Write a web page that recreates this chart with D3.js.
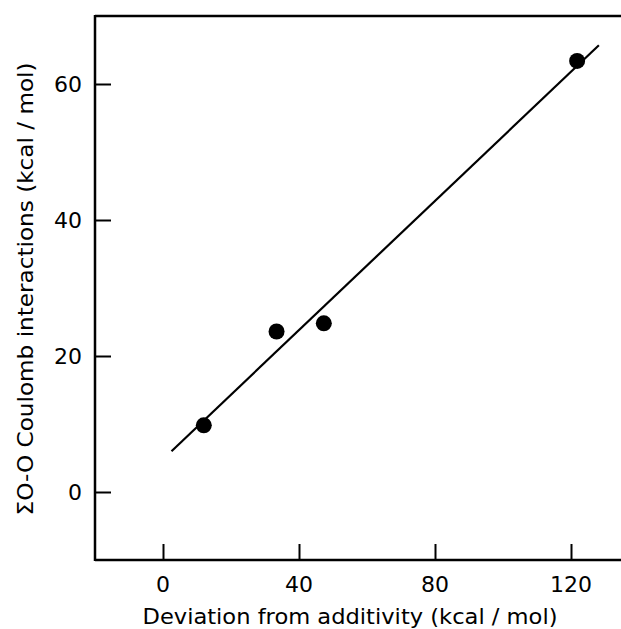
<!DOCTYPE html>
<html><head><meta charset="utf-8">
<script src="https://cdn.jsdelivr.net/npm/d3@7"></script>
<style>html,body{margin:0;padding:0;background:#fff;}svg{display:block;}</style>
</head><body>
<svg id="chart" width="621" height="629"></svg>
<script>
const pointX = [12, 33.4, 47.3, 121.8];
const pointY = [9.8, 23.6, 24.8, 63.4];
const fitX = [2.5, 128.2];
const fitY = [6.0, 65.7];
const xTicks = [0, 40, 80, 120];
const yTicks = [0, 20, 40, 60];
const xLabel = "Deviation from additivity (kcal / mol)";
const yLabel = "ΣO-O Coulomb interactions (kcal / mol)";

const svg = d3.select("#chart");
const x = d3.scaleLinear().domain([-20, 140]).range([95, 639]);
const y = d3.scaleLinear().domain([-10, 70]).range([560, 16]);
const font = "'DejaVu Sans', sans-serif";

// frame: left, top, bottom
const g = svg.append("g");
g.append("line").attr("x1", x(-20)).attr("x2", x(-20)).attr("y1", y(70)-1).attr("y2", y(-10)+1)
  .attr("stroke", "#000").attr("stroke-width", 2.5);
g.append("line").attr("x1", x(-20)).attr("x2", x(140)).attr("y1", y(70)).attr("y2", y(70))
  .attr("stroke", "#000").attr("stroke-width", 2.5);
g.append("line").attr("x1", x(-20)).attr("x2", x(140)).attr("y1", y(-10)).attr("y2", y(-10))
  .attr("stroke", "#000").attr("stroke-width", 2.5);

// y ticks (inward)
const yAxis = d3.axisRight(y).tickValues(yTicks).tickSize(16).tickFormat("");
const ya = svg.append("g").attr("transform", `translate(${x(-20)},0)`).call(yAxis);
ya.select(".domain").remove();
ya.selectAll("line").attr("stroke-width", 2);
svg.selectAll(".ylab").data(yTicks).enter().append("text")
  .attr("x", 82).attr("y", d => y(d)).attr("dy", "0.36em")
  .attr("text-anchor", "end").attr("font-family", font).attr("font-size", 22)
  .text(d => d);

// x ticks (inward)
const xAxis = d3.axisTop(x).tickValues(xTicks).tickSize(16).tickFormat("");
const xa = svg.append("g").attr("transform", `translate(0,${y(-10)})`).call(xAxis);
xa.select(".domain").remove();
xa.selectAll("line").attr("stroke-width", 2);
svg.selectAll(".xlab").data(xTicks).enter().append("text")
  .attr("x", d => x(d)).attr("y", 592)
  .attr("text-anchor", "middle").attr("font-family", font).attr("font-size", 22)
  .text(d => d);

// axis titles
svg.append("text").attr("x", 350).attr("y", 624).attr("text-anchor", "middle")
  .attr("font-family", font).attr("font-size", 21)
  .attr("textLength", 415).attr("lengthAdjust", "spacingAndGlyphs")
  .text(xLabel);
svg.append("text").attr("transform", "translate(33,289) rotate(-90)").attr("text-anchor", "middle")
  .attr("font-family", font).attr("font-size", 21)
  .attr("textLength", 453).attr("lengthAdjust", "spacingAndGlyphs")
  .text(yLabel);

// fit line
svg.append("line").attr("x1", x(fitX[0])).attr("y1", y(fitY[0]))
  .attr("x2", x(fitX[1])).attr("y2", y(fitY[1]))
  .attr("stroke", "#000").attr("stroke-width", 2.2);

// points
svg.selectAll(".pt").data(pointX).enter().append("circle")
  .attr("cx", d => x(d)).attr("cy", (d, i) => y(pointY[i])).attr("r", 8)
  .attr("fill", "#000");
</script>
</body></html>
